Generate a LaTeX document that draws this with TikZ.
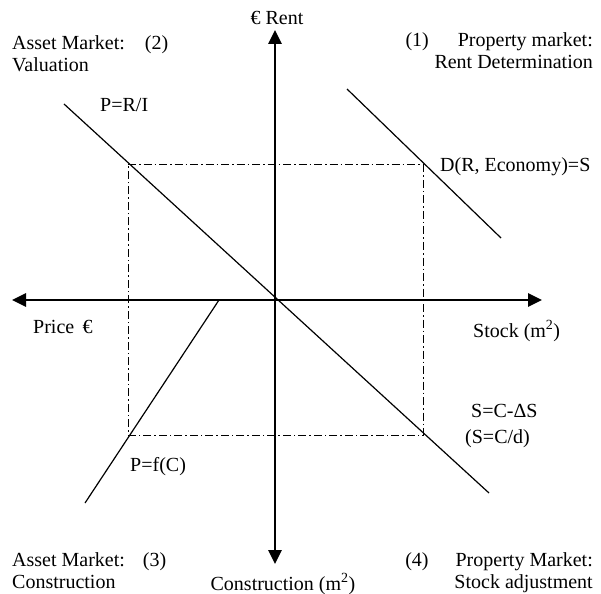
\documentclass[tikz,border=0pt]{standalone}
\usepackage{fontspec}
\setmainfont{Liberation Serif}
\usetikzlibrary{arrows.meta}
\begin{document}
\begin{tikzpicture}[x=1pt,y=-1pt,
  lbl/.style={inner sep=0pt, font=\fontsize{20}{22}\selectfont},
  axis/.style={line width=2.6pt, -{Triangle[length=14pt,width=13pt]}},
  curve/.style={line width=1.2pt},
  guide/.style={line width=1pt, dash pattern=on 8pt off 3pt on 1.5pt off 3pt}]
\useasboundingbox (0,0) rectangle (601,593);
% axes
\coordinate (O) at (275,300);
\coordinate (top) at (275,30);
\coordinate (bot) at (275,564);
\coordinate (lft) at (12,300);
\coordinate (rgt) at (542,300);
\draw[axis] (O) -- (top);
\draw[axis] (O) -- (bot);
\draw[axis] (O) -- (lft);
\draw[axis] (O) -- (rgt);
% guide rectangle
\coordinate (g1) at (128,165);
\coordinate (g2) at (423,165);
\coordinate (g3) at (423,435);
\coordinate (g4) at (128,435);
\draw[guide] (g1) -- (g2) -- (g3) -- (g4) -- cycle;
% curves
\coordinate (v1) at (64,104);
\coordinate (v2) at (489,493);
\draw[curve] (v1) -- (v2);
\coordinate (d1) at (347,89);
\coordinate (d2) at (501,238);
\draw[curve] (d1) -- (d2);
\coordinate (c1) at (219,300);
\coordinate (c2) at (85,503);
\draw[curve] (c1) -- (c2);
% labels
\node[lbl, anchor=base] (rent) at (277,25) {€ Rent};
\node[lbl, anchor=base west, align=left] (q2) at (12,72) {Asset Market:\hspace{20pt}(2)\\Valuation};
\node[lbl, anchor=base west] (pri) at (100,112) {P=R/I};
\node[lbl, anchor=base east, align=right] (q1) at (593,69) {(1)\hspace{29pt}Property market:\\Rent Determination};
\node[lbl, anchor=base west] (dem) at (440,172) {D(R, Economy)=S};
\node[lbl, anchor=base west] (price) at (33,333) {Price \,€};
\node[lbl, anchor=base west] (stock) at (473,337) {Stock (m\textsuperscript{2})};
\node[lbl, anchor=base west] (sa) at (471,417) {S=C-ΔS};
\node[lbl, anchor=base west] (sb) at (465,443) {(S=C/d)};
\node[lbl, anchor=base west] (pfc) at (130,471) {P=f(C)};
\node[lbl, anchor=base west, align=left] (q3) at (12,588) {Asset Market:\hspace{18pt}(3)\\Construction};
\node[lbl, anchor=base] (con) at (283,590) {Construction (m\textsuperscript{2})};
\node[lbl, anchor=base east, align=right] (q4) at (593,588) {(4)\hspace{27pt}Property Market:\\Stock adjustment};
\end{tikzpicture}
\end{document}
